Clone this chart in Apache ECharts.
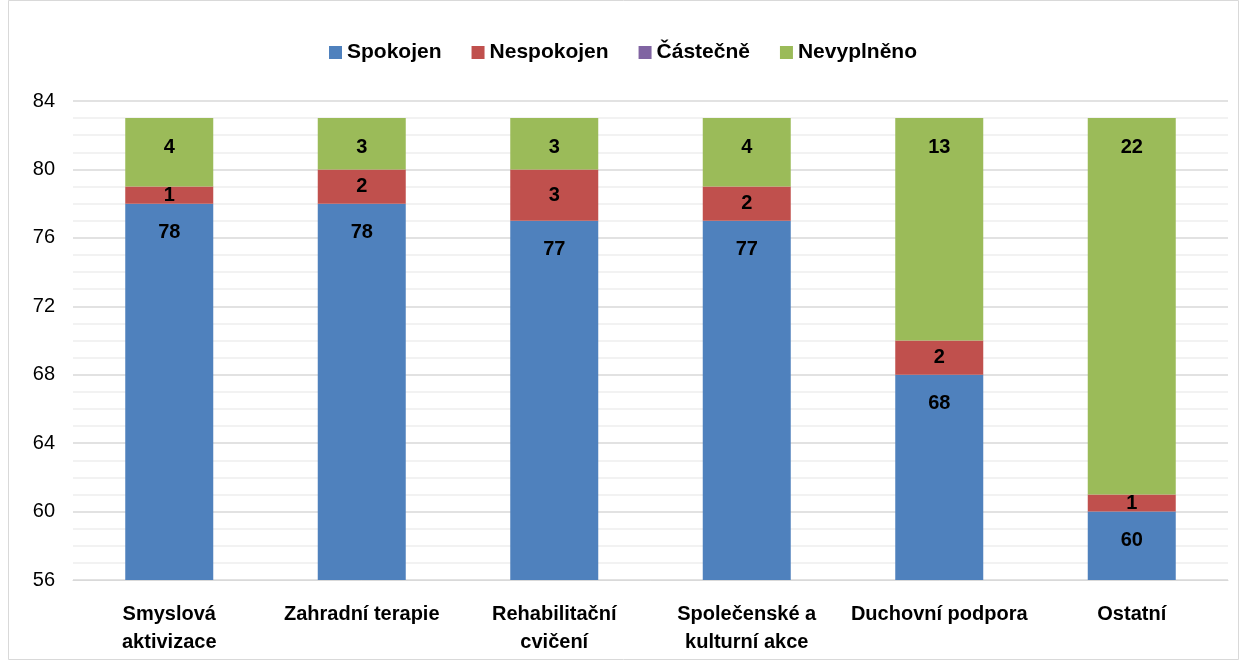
<!DOCTYPE html>
<html>
<head>
<meta charset="utf-8">
<script src="https://cdn.jsdelivr.net/npm/echarts@6/dist/echarts.min.js"></script>
<style>
  html, body { margin: 0; padding: 0; background: #fff; }
  #chart { width: 1246px; height: 666px; }
</style>
</head>
<body>
<div id="chart"></div>
<script>
// data
var categories = ["Smyslová\naktivizace", "Zahradní terapie", "Rehabilitační\ncvičení", "Společenské a\nkulturní akce", "Duchovní podpora", "Ostatní"];
var spokojen = [78, 78, 77, 77, 68, 60];
var nespokojen = [1, 2, 3, 2, 2, 1];
var castecne = [0, 0, 0, 0, 0, 0];
var nevyplneno = [4, 3, 3, 4, 13, 22];
var yTicks = { min: 56, max: 84, interval: 4 };

var font = "Liberation Sans";

function makeSeries(name, data, color, pos) {
  return {
    name: name,
    type: "bar",
    stack: "total",
    barWidth: 88,
    data: data,
    itemStyle: { color: color },
    label: {
      show: true,
      position: pos,
      distance: pos === "insideTop" ? 19 : 5,
      fontFamily: font,
      fontWeight: "bold",
      fontSize: 20,
      color: "#000",
      formatter: function (p) { return p.value ? p.value : ""; }
    }
  };
}

var chart = echarts.init(document.getElementById("chart"));
var option = {
  animation: false,
  backgroundColor: "#fff",
  graphic: [{
    type: "rect",
    shape: { x: 8.5, y: 0.5, width: 1230, height: 659 },
    style: { fill: "none", stroke: "#d9d9d9", lineWidth: 1 },
    silent: true
  }],
  legend: {
    top: 37,
    left: "center",
    itemWidth: 13,
    itemHeight: 13,
    itemGap: 30,
    icon: "rect",
    textStyle: { fontFamily: font, fontWeight: "bold", fontSize: 21, color: "#000" },
    data: ["Spokojen", "Nespokojen", "Částečně", "Nevyplněno"]
  },
  grid: { left: 73, right: 18, top: 101, bottom: 86 },
  xAxis: {
    type: "category",
    data: categories,
    axisTick: { show: false },
    axisLine: { show: true, lineStyle: { color: "#d9d9d9", width: 1 } },
    axisLabel: {
      fontFamily: font, fontWeight: "bold", fontSize: 20, color: "#000",
      margin: 20, lineHeight: 28, interval: 0
    }
  },
  yAxis: {
    type: "value",
    min: yTicks.min,
    max: yTicks.max,
    interval: yTicks.interval,
    axisLine: { show: false },
    axisTick: { show: false },
    axisLabel: { fontFamily: font, fontSize: 20, color: "#000", margin: 18 },
    splitLine: { lineStyle: { color: "#d9d9d9", width: 1.5 } },
    minorTick: { show: false, splitNumber: 4 },
    minorSplitLine: { show: true, lineStyle: { color: "#eeeeee", width: 1.5 } }
  },
  series: [
    makeSeries("Spokojen", spokojen, "#4f81bd", "insideTop"),
    makeSeries("Nespokojen", nespokojen, "#c0504d", "inside"),
    makeSeries("Částečně", castecne, "#8064a2", "inside"),
    makeSeries("Nevyplněno", nevyplneno, "#9bbb59", "insideTop")
  ]
};
chart.setOption(option);
</script>
</body>
</html>
